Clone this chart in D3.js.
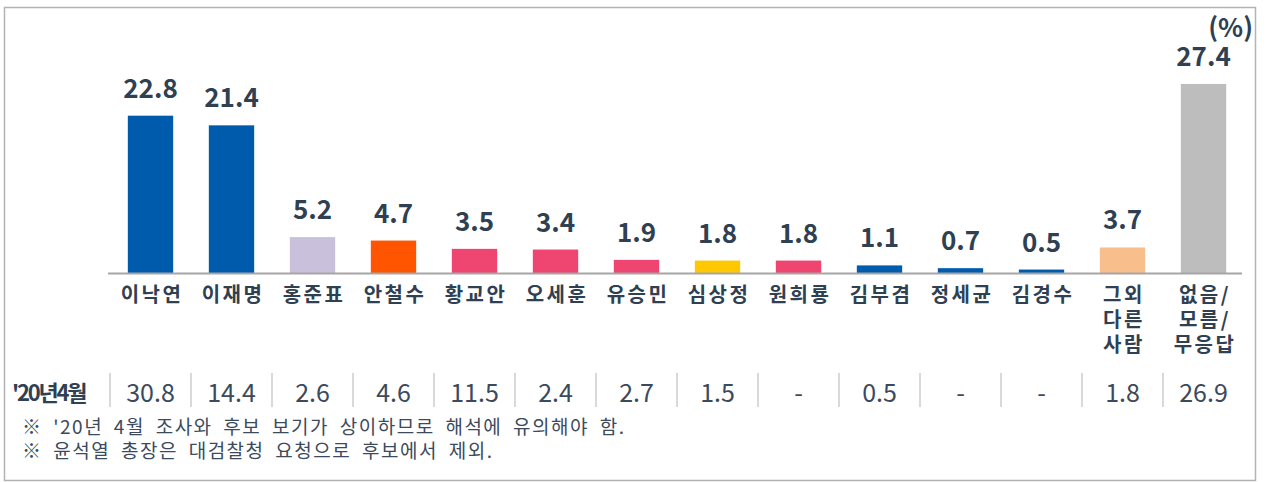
<!DOCTYPE html>
<html>
<head>
<meta charset="utf-8">
<script src="https://cdn.jsdelivr.net/npm/d3@7"></script>
<style>
  body { margin: 0; background: #fff; }
  text { font-family: "Noto Sans CJK KR", "Noto Sans", sans-serif; }
</style>
</head>
<body>
<div id="chart"></div>
<script>
// data
const categories = ["이낙연", "이재명", "홍준표", "안철수", "황교안", "오세훈", "유승민", "심상정", "원희룡", "김부겸", "정세균", "김경수", "그외\n다른\n사람", "없음/\n모름/\n무응답"];
const values = [22.8, 21.4, 5.2, 4.7, 3.5, 3.4, 1.9, 1.8, 1.8, 1.1, 0.7, 0.5, 3.7, 27.4];
const prevLabel = "'20년4월";
const prevValues = ["30.8", "14.4", "2.6", "4.6", "11.5", "2.4", "2.7", "1.5", "-", "0.5", "-", "-", "1.8", "26.9"];
const barColors = ["#005bac", "#005bac", "#c9c0db", "#ff5500", "#ee4571", "#ee4571", "#ee4571", "#ffc800", "#ee4571", "#005bac", "#005bac", "#005bac", "#f8bf8c", "#bdbdbd"];
const notes = ["※ '20년 4월 조사와 후보 보기가 상이하므로 해석에 유의해야 함.", "※ 윤석열 총장은 대검찰청 요청으로 후보에서 제외."];

const width = 1267, height = 482;
const baseY = 273;
const textColor = "#2f4052";

const svg = d3.select("#chart").append("svg")
    .attr("width", width)
    .attr("height", height);

// frame
svg.append("rect")
    .attr("x", 4.5).attr("y", 7.5)
    .attr("width", 1251).attr("height", 473)
    .attr("fill", "none")
    .attr("stroke", "#b3b3b3")
    .attr("stroke-width", 1.5);

const x = d3.scaleBand()
    .domain(categories)
    .range([110, 1244])
    .paddingInner(0.44)
    .paddingOuter(0.22);

const y = d3.scaleLinear()
    .domain([0, 30])
    .range([baseY, baseY - 207]);

const cx = c => x(c) + x.bandwidth() / 2;

// bars
svg.selectAll("rect.bar")
    .data(values)
    .join("rect")
    .attr("class", "bar")
    .attr("x", (d, i) => x(categories[i]))
    .attr("y", d => y(d))
    .attr("width", x.bandwidth())
    .attr("height", d => y(0) - y(d))
    .attr("fill", (d, i) => barColors[i]);

// value labels
svg.selectAll("text.val")
    .data(values)
    .join("text")
    .attr("class", "val")
    .attr("x", (d, i) => cx(categories[i]))
    .attr("y", d => y(d) - 18)
    .attr("text-anchor", "middle")
    .attr("font-size", 26)
    .attr("font-weight", "bold")
    .attr("fill", textColor)
    .text(d => d.toFixed(1));

// baseline
svg.append("line")
    .attr("x1", 108).attr("x2", 1242)
    .attr("y1", baseY + 0.5).attr("y2", baseY + 0.5)
    .attr("stroke", "#a6a6a6")
    .attr("stroke-width", 2);

// category labels (letter-spacing adds a trailing gap, so nudge right by half of it)
svg.selectAll("text.cat")
    .data(categories)
    .join("text")
    .attr("class", "cat")
    .attr("text-anchor", "middle")
    .attr("font-size", 20)
    .attr("font-weight", "bold")
    .attr("letter-spacing", 2.5)
    .attr("fill", textColor)
    .each(function(d) {
        d.split("\n").forEach((line, j) => {
            d3.select(this).append("tspan")
                .attr("x", cx(d) + 1.5)
                .attr("y", 302 + j * 25)
                .text(line);
        });
    });

// table row
svg.append("text")
    .attr("x", 12)
    .attr("y", 401)
    .attr("font-size", 22)
    .attr("font-weight", "bold")
    .attr("letter-spacing", -2.2)
    .attr("fill", textColor)
    .text(prevLabel);

svg.selectAll("line.sep")
    .data(categories)
    .join("line")
    .attr("class", "sep")
    .attr("x1", d => x(d) - x.step() * x.paddingInner() / 2)
    .attr("x2", d => x(d) - x.step() * x.paddingInner() / 2)
    .attr("y1", 373).attr("y2", 407)
    .attr("stroke", "#d9d9d9")
    .attr("stroke-width", 2);

svg.selectAll("text.prev")
    .data(prevValues)
    .join("text")
    .attr("class", "prev")
    .attr("x", (d, i) => cx(categories[i]))
    .attr("y", 402)
    .attr("text-anchor", "middle")
    .attr("font-size", 25)
    .attr("fill", "#3b4a5c")
    .text(d => d);

// unit
svg.append("text")
    .attr("x", 1253)
    .attr("y", 37)
    .attr("text-anchor", "end")
    .attr("font-size", 26)
    .attr("font-weight", "bold")
    .attr("fill", textColor)
    .text("(%)");

// notes
svg.selectAll("text.note")
    .data(notes)
    .join("text")
    .attr("class", "note")
    .attr("x", 22)
    .attr("y", (d, i) => 434 + i * 24)
    .attr("font-size", 19)
    .attr("letter-spacing", 1.5)
    .attr("word-spacing", 5)
    .attr("fill", "#3b4a5c")
    .text(d => d);
</script>
</body>
</html>
